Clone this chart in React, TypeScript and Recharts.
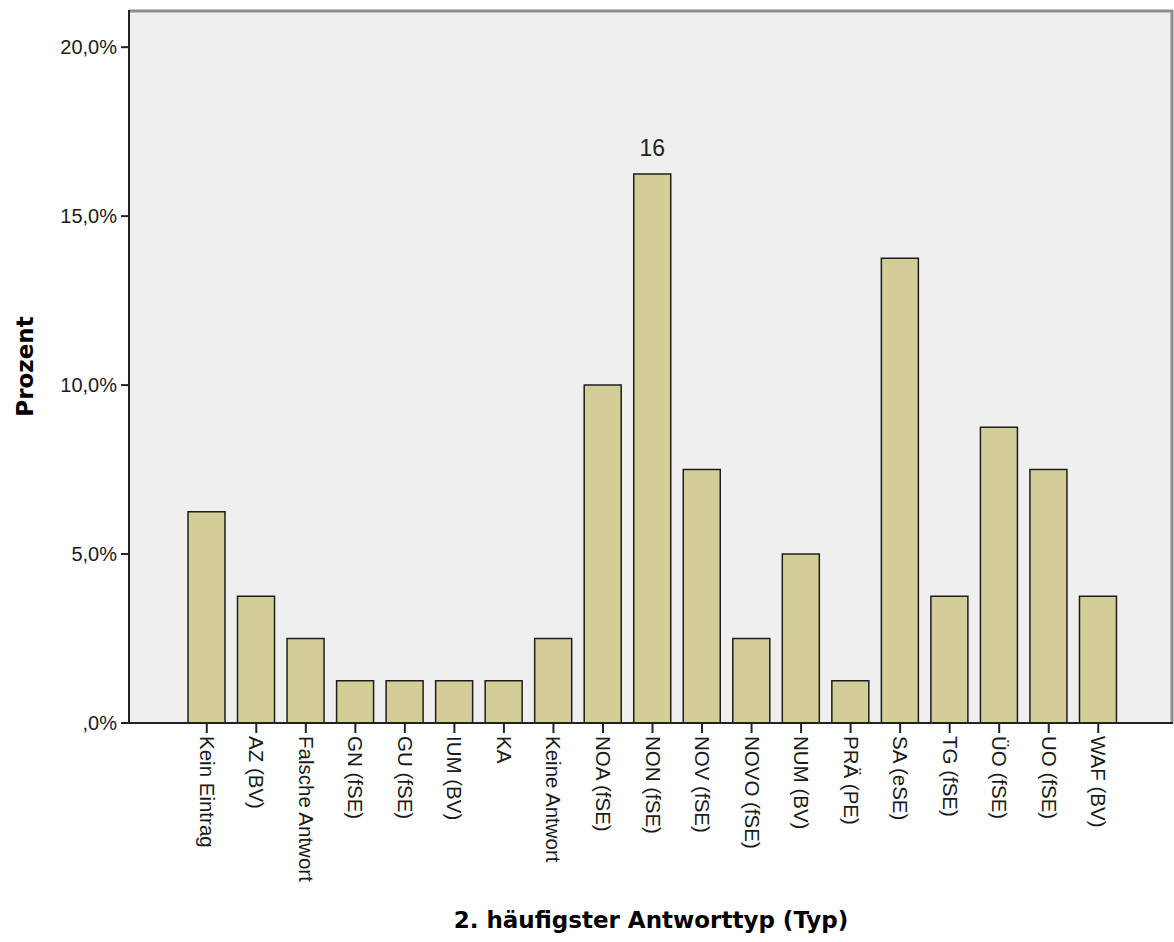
import { BarChart, Bar, XAxis, YAxis, CartesianGrid, LabelList } from 'recharts';

const CATEGORIES = [
  'Kein Eintrag',
  'AZ (BV)',
  'Falsche Antwort',
  'GN (fSE)',
  'GU (fSE)',
  'IUM (BV)',
  'KA',
  'Keine Antwort',
  'NOA (fSE)',
  'NON (fSE)',
  'NOV (fSE)',
  'NOVO (fSE)',
  'NUM (BV)',
  'PRÄ (PE)',
  'SA (eSE)',
  'TG (fSE)',
  'ÜO (fSE)',
  'UO (fSE)',
  'WAF (BV)',
];

// percent of answers per type
const PERCENT = [
  6.25, 3.75, 2.5, 1.25, 1.25, 1.25, 1.25, 2.5, 10.0, 16.25,
  7.5, 2.5, 5.0, 1.25, 13.75, 3.75, 8.75, 7.5, 3.75,
];

const Y_TICKS = [0, 5, 10, 15, 20];

// only this bar carries a value label in the original
const LABELLED = ['NON (fSE)'];

const data = CATEGORIES.map((name, i) => ({ name, value: PERCENT[i] }));

const TICK_FONT = '"Liberation Sans", Arial, sans-serif';
const TITLE_FONT = '"DejaVu Sans", Verdana, sans-serif';

const formatPercent = (v: number) => (v === 0 ? ',0%' : v.toFixed(1).replace('.', ',') + '%');

const XTick = (props: any) => {
  const { x, y, payload } = props;
  return (
    <g transform={`translate(${x},${y})`}>
      <text
        transform="rotate(90)"
        x={1}
        y={7}
        textAnchor="start"
        fontFamily={TICK_FONT}
        fontSize={20.5}
        fill="#1a1a1a"
      >
        {payload.value}
      </text>
    </g>
  );
};

const YTitle = (props: any) => {
  const { y, height } = props.viewBox;
  return (
    <text
      transform={`translate(33,${y + height / 2}) rotate(-90)`}
      textAnchor="middle"
      fontFamily={TITLE_FONT}
      fontWeight="bold"
      fontSize={23}
      fill="#000"
    >
      Prozent
    </text>
  );
};

const XTitle = (props: any) => {
  const { x, width } = props.viewBox;
  return (
    <text
      x={x + width / 2}
      y={928}
      textAnchor="middle"
      fontFamily={TITLE_FONT}
      fontWeight="bold"
      fontSize={23}
      fill="#000"
    >
      2. häufigster Antworttyp (Typ)
    </text>
  );
};

const BarValue = (props: any) => {
  const { x, y, width, value, index } = props;
  if (!LABELLED.includes(CATEGORIES[index])) return null;
  return (
    <text
      x={x + width / 2}
      y={y - 18}
      textAnchor="middle"
      fontFamily={TICK_FONT}
      fontSize={23}
      fill="#222"
    >
      {Math.round(value)}
    </text>
  );
};

export default function App() {
  return (
    <div style={{ position: 'absolute', left: 0, top: 0, background: '#fff' }}>
      <BarChart
        width={1174}
        height={942}
        data={data}
        margin={{ top: 10, right: 1, left: 0, bottom: 0 }}
        barSize={37}
      >
        {/* frame of the plot: grey top and right edges */}
        <CartesianGrid
          horizontalPoints={[11]}
          verticalPoints={[1172]}
          stroke="#8c8c8c"
          strokeWidth={3}
          fill="#efefef"
        />
        <XAxis
          dataKey="name"
          height={219}
          interval={0}
          padding={{ left: 53, right: 50 }}
          tick={<XTick />}
          tickSize={10}
          tickLine={{ stroke: '#222', strokeWidth: 2 }}
          axisLine={{ stroke: '#222', strokeWidth: 2 }}
          label={<XTitle />}
        />
        <YAxis
          width={129}
          domain={[0, 21.1]}
          ticks={Y_TICKS}
          allowDataOverflow
          tickFormatter={formatPercent}
          tickSize={8}
          tickMargin={4}
          tick={{ fontFamily: TICK_FONT, fontSize: 20, fill: '#1a1a1a' }}
          tickLine={{ stroke: '#222', strokeWidth: 2 }}
          axisLine={{ stroke: '#222', strokeWidth: 2 }}
          label={<YTitle />}
        />
        <Bar
          dataKey="value"
          fill="#d3ce97"
          stroke="#1e1e1e"
          strokeWidth={1.5}
          isAnimationActive={false}
        >
          <LabelList dataKey="value" content={<BarValue />} />
        </Bar>
      </BarChart>
    </div>
  );
}
